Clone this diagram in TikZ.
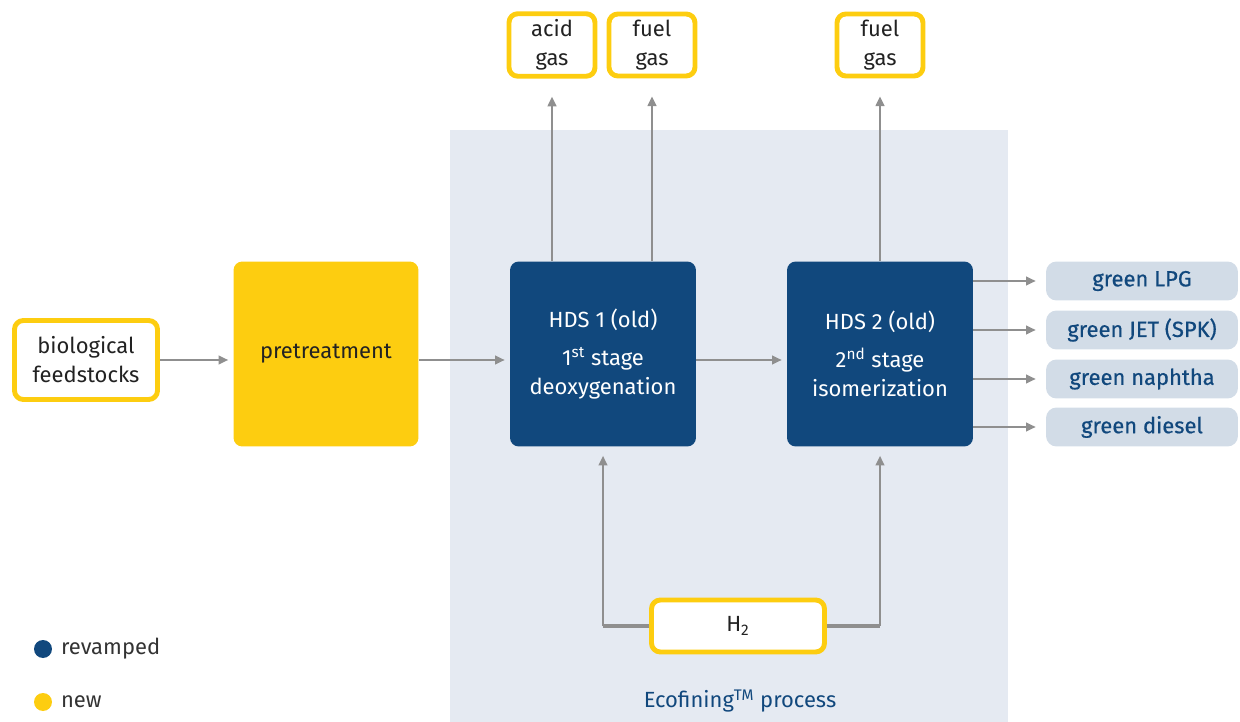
\documentclass[tikz,border=0pt]{standalone}
\usepackage{fontspec}
\setmainfont{Fira Sans}
\newfontfamily\prodfont{Fira Sans}[FakeBold=0.6]
\usetikzlibrary{arrows.meta}
\definecolor{ecoblue}{HTML}{11487D}
\definecolor{ecoyellow}{HTML}{FDCD10}
\definecolor{panel}{HTML}{E5EAF2}
\definecolor{prodfill}{HTML}{D2DCE7}
\definecolor{flow}{HTML}{8F8F8F}
\definecolor{ink}{HTML}{222222}
\begin{document}
\begin{tikzpicture}[x=0.02cm,y=-0.02cm,line join=round,>={Triangle[length=5.5pt,width=5pt]}]
			\tikzset{every node/.style={font=\fontsize{12.5}{16.5}\selectfont,align=center,text=ink}}
			\tikzset{newbox/.style={draw=ecoyellow,line width=2.8pt,fill=white,rounded corners=5pt}}
			\tikzset{newunit/.style={fill=ecoyellow,rounded corners=5pt,minimum width=3.7cm,minimum height=3.7cm}}
			\tikzset{oldunit/.style={fill=ecoblue,rounded corners=5pt,minimum width=3.72cm,minimum height=3.7cm,text=white}}
			\tikzset{product/.style={fill=prodfill,rounded corners=6pt,minimum width=3.84cm,minimum height=0.78cm,text=ecoblue,font=\fontsize{12.5}{15}\prodfont}}
			\tikzset{flowline/.style={draw=flow,line width=1.1pt}}
			\tikzset{legdot/.style={circle,inner sep=0pt,minimum size=0.36cm}}
			\useasboundingbox (0,0) rectangle (1240,722);
			\fill[panel] (450,130) rectangle (1008,722);
			% units
			\node[newbox,minimum width=2.86cm,minimum height=1.58cm] (feed) at (86,360) {biological\\feedstocks};
			\node[newunit] (pre) at (326,354) {pretreatment};
			\node[oldunit] (hds1) at (603,354) {HDS 1 (old)\\[5pt]1\textsuperscript{st} stage\\deoxygenation};
			\node[oldunit] (hds2) at (880,354) {HDS 2 (old)\\[5pt]2\textsuperscript{nd} stage\\isomerization};
			\coordinate (mid) at (0,360);
			% gases
			\node[newbox,minimum width=1.72cm,minimum height=1.24cm] (acid) at (552,45) {acid\\gas};
			\node[newbox,minimum width=1.72cm,minimum height=1.24cm] (fuel1) at (652,45) {fuel\\gas};
			\node[newbox,minimum width=1.72cm,minimum height=1.24cm] (fuel2) at (880,45) {fuel\\gas};
			% products
			\node[product] (lpg) at (1142,281) {green LPG};
			\node[product] (jet) at (1142,330) {green JET (SPK)};
			\node[product] (naph) at (1142,379) {green naphtha};
			\node[product] (dies) at (1142,427) {green diesel};
			% hydrogen
			\node[newbox,minimum width=3.46cm,minimum height=1.04cm] (h2) at (738,626) {H\textsubscript{2}};
			\node[text=ecoblue] (eco) at (740,701) {Ecofining\textsuperscript{TM} process};
			% main line
			\draw[flowline,->,shorten >=0.1cm] (feed.east |- mid) -- (mid -| pre.west);
			\draw[flowline,->,shorten >=0.1cm] (pre.east |- mid) -- (mid -| hds1.west);
			\draw[flowline,->,shorten >=0.1cm] (hds1.east |- mid) -- (mid -| hds2.west);
			\foreach \gas/\unit in {acid/hds1,fuel1/hds1,fuel2/hds2}
			\draw[flowline,->,shorten >=0.36cm] (\unit.north -| \gas) -- (\gas.south);
			\foreach \prod in {lpg,jet,naph,dies}
			\draw[flowline,->,shorten >=0.2cm] (hds2.east |- \prod) -- (\prod.west);
			\draw[flowline,line width=2pt] (h2.west) -- (h2.west -| hds1);
			\draw[flowline,line width=2pt] (h2.east) -- (h2.east -| hds2);
			\draw[flowline,->,shorten >=0.18cm] (h2.west -| hds1) -- (hds1.south);
			\draw[flowline,->,shorten >=0.18cm] (h2.east -| hds2) -- (hds2.south);
			% legend
			\node[legdot,fill=ecoblue] (revdot) at (43,649) {};
			\node[anchor=west,text=black!80] (revtxt) at ([xshift=0.05cm]revdot.east) {revamped};
			\node[legdot,fill=ecoyellow] (newdot) at (43,702) {};
			\node[anchor=west,text=black!80] (newtxt) at ([xshift=0.05cm]newdot.east) {new};
		\end{tikzpicture}
\end{document}
